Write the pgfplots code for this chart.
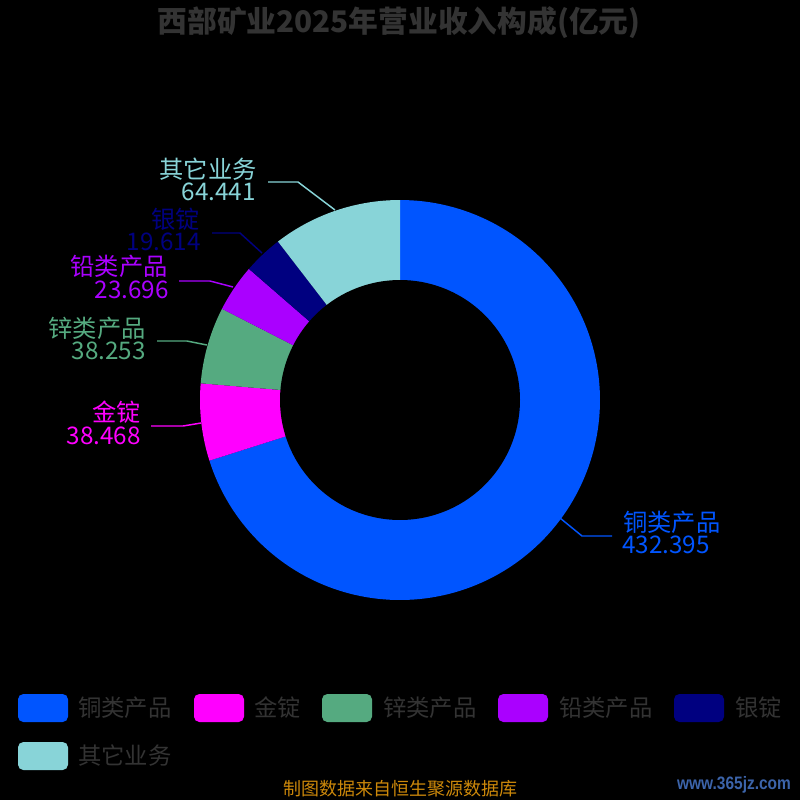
\documentclass[border=0pt]{standalone}
\usepackage{pgfplots}
\pgfplotsset{compat=1.18}
\usepackage{fontspec}
\setmainfont{Noto Sans CJK SC}
\newfontfamily\wmfont{Liberation Sans}
\definecolor{cCu}{RGB}{0,85,255}
\definecolor{cAu}{RGB}{255,0,255}
\definecolor{cZn}{RGB}{85,170,128}
\definecolor{cPb}{RGB}{170,0,255}
\definecolor{cAg}{RGB}{0,0,128}
\definecolor{cOt}{RGB}{136,212,216}
\definecolor{cTitle}{RGB}{51,51,51}
\definecolor{cFoot}{RGB}{204,136,10}
\definecolor{cWm}{RGB}{60,100,170}
% data (亿元)
\def\vCu{432.395}
\def\vAu{38.468}
\def\vZn{38.253}
\def\vPb{23.696}
\def\vAg{19.614}
\def\vOt{64.441}
\pgfmathsetmacro\tot{\vCu+\vAu+\vZn+\vPb+\vAg+\vOt}
\pgfmathsetmacro\aA{90}
\pgfmathsetmacro\aB{\aA-360*(\vCu/\tot)}
\pgfmathsetmacro\aC{\aB-360*(\vAu/\tot)}
\pgfmathsetmacro\aD{\aC-360*(\vZn/\tot)}
\pgfmathsetmacro\aE{\aD-360*(\vPb/\tot)}
\pgfmathsetmacro\aF{\aE-360*(\vAg/\tot)}
\pgfmathsetmacro\aG{-270}
\newcommand\lab{\fontsize{18.2pt}{20pt}\selectfont}
\newcommand\leg{\fontsize{17.5pt}{20pt}\selectfont}
\begin{document}
\begin{tikzpicture}[x=0.75pt,y=0.75pt]
\fill[black] (0,0) rectangle (800,800);
\begin{axis}[at={(0,0)},anchor=south west,width=600pt,height=600pt,scale only axis,
  xmin=0,xmax=800,ymin=0,ymax=800,y dir=reverse,hide axis,clip=false]
\addplot[fill=cCu,draw=none,domain=\aB:\aA,samples=150] ({400+200*cos(x)},{400-200*sin(x)}) -- (axis cs:400,400) -- cycle;
\addplot[fill=cAu,draw=none,domain=\aC:\aB,samples=30] ({400+200*cos(x)},{400-200*sin(x)}) -- (axis cs:400,400) -- cycle;
\addplot[fill=cZn,draw=none,domain=\aD:\aC,samples=30] ({400+200*cos(x)},{400-200*sin(x)}) -- (axis cs:400,400) -- cycle;
\addplot[fill=cPb,draw=none,domain=\aE:\aD,samples=30] ({400+200*cos(x)},{400-200*sin(x)}) -- (axis cs:400,400) -- cycle;
\addplot[fill=cAg,draw=none,domain=\aF:\aE,samples=30] ({400+200*cos(x)},{400-200*sin(x)}) -- (axis cs:400,400) -- cycle;
\addplot[fill=cOt,draw=none,domain=\aG:\aF,samples=40] ({400+200*cos(x)},{400-200*sin(x)}) -- (axis cs:400,400) -- cycle;
\addplot[fill=black,draw=none,domain=0:360,samples=200] ({400+120*cos(x)},{400-120*sin(x)}) -- cycle;
% leader lines
\draw[cOt,line width=1.1pt] (axis cs:268,182) -- (axis cs:298,182) -- (axis cs:335,210);
\draw[cAg,line width=1.1pt] (axis cs:212,233) -- (axis cs:240,233) -- (axis cs:262,253);
\draw[cPb,line width=1.1pt] (axis cs:179,281) -- (axis cs:210,281) -- (axis cs:233,287);
\draw[cZn,line width=1.1pt] (axis cs:157,341) -- (axis cs:187,341) -- (axis cs:207,345);
\draw[cAu,line width=1.1pt] (axis cs:151,426) -- (axis cs:183,426) -- (axis cs:201,423);
\draw[cCu,line width=1.1pt] (axis cs:560,518) -- (axis cs:582,536) -- (axis cs:612,536);
% labels
\node[anchor=east,inner sep=0,text=cOt,font=\lab] at (axis cs:257,169) {其它业务};
\node[anchor=east,inner sep=0,text=cOt,font=\lab] at (axis cs:256,192) {64.441};
\node[anchor=east,inner sep=0,text=cAg,font=\lab] at (axis cs:200,219) {银锭};
\node[anchor=east,inner sep=0,text=cAg,font=\lab] at (axis cs:201,242) {19.614};
\node[anchor=east,inner sep=0,text=cPb,font=\lab] at (axis cs:168,266) {铅类产品};
\node[anchor=east,inner sep=0,text=cPb,font=\lab] at (axis cs:169,290) {23.696};
\node[anchor=east,inner sep=0,text=cZn,font=\lab] at (axis cs:146,328) {锌类产品};
\node[anchor=east,inner sep=0,text=cZn,font=\lab] at (axis cs:146,351) {38.253};
\node[anchor=east,inner sep=0,text=cAu,font=\lab] at (axis cs:141,412) {金锭};
\node[anchor=east,inner sep=0,text=cAu,font=\lab] at (axis cs:141,436) {38.468};
\node[anchor=west,inner sep=0,text=cCu,font=\lab] at (axis cs:623,522) {铜类产品};
\node[anchor=west,inner sep=0,text=cCu,font=\lab] at (axis cs:622,545) {432.395};
% title
\node[inner sep=0,text=cTitle,font=\fontsize{22.3pt}{24pt}\selectfont\bfseries] at (axis cs:399,23) {西部矿业2025年营业收入构成(亿元)};
% legend
\fill[cCu,rounded corners=4pt] (axis cs:18,694) rectangle (axis cs:68,722);
\fill[cAu,rounded corners=4pt] (axis cs:194,694) rectangle (axis cs:244,722);
\fill[cZn,rounded corners=4pt] (axis cs:322,694) rectangle (axis cs:372,722);
\fill[cPb,rounded corners=4pt] (axis cs:498,694) rectangle (axis cs:548,722);
\fill[cAg,rounded corners=4pt] (axis cs:674,694) rectangle (axis cs:724,722);
\fill[cOt,rounded corners=4pt] (axis cs:18,742) rectangle (axis cs:68,770);
\node[anchor=west,inner sep=0,text=cTitle,font=\leg] at (axis cs:78,708) {铜类产品};
\node[anchor=west,inner sep=0,text=cTitle,font=\leg] at (axis cs:254,708) {金锭};
\node[anchor=west,inner sep=0,text=cTitle,font=\leg] at (axis cs:383,708) {锌类产品};
\node[anchor=west,inner sep=0,text=cTitle,font=\leg] at (axis cs:559,708) {铅类产品};
\node[anchor=west,inner sep=0,text=cTitle,font=\leg] at (axis cs:735,708) {银锭};
\node[anchor=west,inner sep=0,text=cTitle,font=\leg] at (axis cs:78,756) {其它业务};
% footer
\node[inner sep=0,text=cFoot,font=\fontsize{13.5pt}{15pt}\selectfont] at (axis cs:400,789) {制图数据来自恒生聚源数据库};
\node[inner sep=0,text=cWm,font=\wmfont\bfseries\fontsize{13.5pt}{14pt}\selectfont,xscale=0.86] at (axis cs:734,785) {www.365jz.com};
\end{axis}
\end{tikzpicture}
\end{document}
